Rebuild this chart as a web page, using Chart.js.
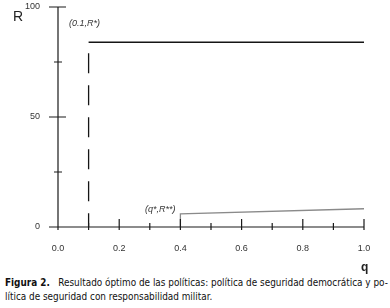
<!DOCTYPE html>
<html>
<head>
<meta charset="utf-8">
<script src="https://cdn.jsdelivr.net/npm/chart.js@4.4.1/dist/chart.umd.min.js"></script>
<style>
  body { margin: 0; background: #fff; }
  #wrap { position: relative; width: 390px; height: 308px; }
  #chart { position: absolute; left: 0; top: 0; }
  #caption {
    position: absolute; left: 5px; top: 276px; width: 385px;
    font-family: "DejaVu Sans Condensed", "DejaVu Sans"; font-size: 9.9px;
    line-height: 14px; color: #111; white-space: nowrap;
  }
</style>
</head>
<body>
<div id="wrap">
  <canvas id="chart" width="390" height="276"></canvas>
  <div id="caption"><b>Figura 2.</b>&nbsp;&nbsp; Resultado óptimo de las políticas: política de seguridad democrática y po-<br>lítica de seguridad con responsabilidad militar.</div>
</div>
<script>
// datos
const rStar = 84;
const horizQ = [0.1, 1.0];
const horizR = [rStar, rStar];
const dashQ = [0.1, 0.1];
const dashR = [79, 0];
const lowQ = [0.4, 0.4, 1.0];
const lowR = [0, 6, 8.3];
const xTicks = [0, 0.1, 0.2, 0.3, 0.4, 0.5, 0.6, 0.7, 0.8, 0.9, 1.0];
const yTicks = [0, 25, 50, 75, 100];
const yLabels = [0, 50, 100];

function pts(xs, ys) {
  return xs.map((x, i) => ({ x: x, y: ys[i] }));
}

// ejes y marcas dibujados a mano (las marcas cruzan el eje)
const axesPlugin = {
  id: 'axesPlugin',
  afterDraw(chart) {
    const c = chart.ctx;
    const xs = chart.scales.x, ys = chart.scales.y;
    const x0 = xs.getPixelForValue(0), y0 = ys.getPixelForValue(0);
    c.save();
    c.strokeStyle = '#1a1a1a';
    c.lineWidth = 1.2;
    c.beginPath();
    c.moveTo(x0, ys.getPixelForValue(100));
    c.lineTo(x0, y0 + 3);
    c.moveTo(x0 - 5, y0);
    c.lineTo(xs.getPixelForValue(1), y0);
    xTicks.forEach((v, i) => {
      const px = xs.getPixelForValue(v);
      const up = (i % 2 === 0) ? 8 : 4;
      c.moveTo(px, y0 - up);
      c.lineTo(px, y0 + 3);
    });
    yTicks.forEach((v, i) => {
      const py = ys.getPixelForValue(v);
      const big = (i % 2 === 0);
      c.moveTo(x0 - (big ? 9 : 4), py);
      c.lineTo(x0 + (big ? 8 : 4), py);
    });
    c.stroke();

    c.fillStyle = '#222';
    c.font = '14px "Liberation Sans"';
    c.textAlign = 'left';
    c.textBaseline = 'middle';
    c.fillText('R', 13, 17);
    c.font = 'bold 12px "Liberation Sans"';
    c.fillText('q', 361, 268);

    c.font = 'italic 9px "Liberation Sans"';
    c.fillStyle = '#333';
    c.fillText('(0.1,R*)', 69, 23);
    c.fillText('(q*,R**)', 145, 209);
    c.restore();
  }
};

new Chart(document.getElementById('chart'), {
  type: 'scatter',
  data: {
    datasets: [
      { data: pts(horizQ, horizR), showLine: true, borderColor: '#151515', borderWidth: 1.5, pointRadius: 0 },
      { data: pts(dashQ, dashR), showLine: true, borderColor: '#151515', borderWidth: 1.3, borderDash: [20, 12], pointRadius: 0 },
      { data: pts(lowQ, lowR), showLine: true, borderColor: '#8a8a8a', borderWidth: 1.3, pointRadius: 0 }
    ]
  },
  options: {
    responsive: false,
    animation: false,
    layout: { padding: { top: 7, right: 26, left: 0, bottom: 0 } },
    plugins: { legend: { display: false }, tooltip: { enabled: false } },
    scales: {
      x: {
        type: 'linear', min: 0, max: 1,
        grid: { display: false }, border: { display: false },
        afterBuildTicks(scale) { scale.ticks = xTicks.filter((v, i) => i % 2 === 0).map(v => ({ value: v })); },
        afterFit(scale) { scale.height = 49; scale.paddingLeft = 0; scale.paddingRight = 0; },
        ticks: {
          padding: 8, maxRotation: 0, autoSkip: false, color: '#333',
          font: { family: 'Liberation Sans', size: 9 },
          callback: v => v.toFixed(1)
        }
      },
      y: {
        type: 'linear', min: 0, max: 100,
        grid: { display: false }, border: { display: false },
        afterBuildTicks(scale) { scale.ticks = yLabels.map(v => ({ value: v })); },
        afterFit(scale) { scale.width = 58; scale.paddingTop = 0; scale.paddingBottom = 0; },
        ticks: {
          padding: 10, color: '#333',
          font: { family: 'Liberation Sans', size: 9 }
        }
      }
    }
  },
  plugins: [axesPlugin]
});
</script>
</body>
</html>
